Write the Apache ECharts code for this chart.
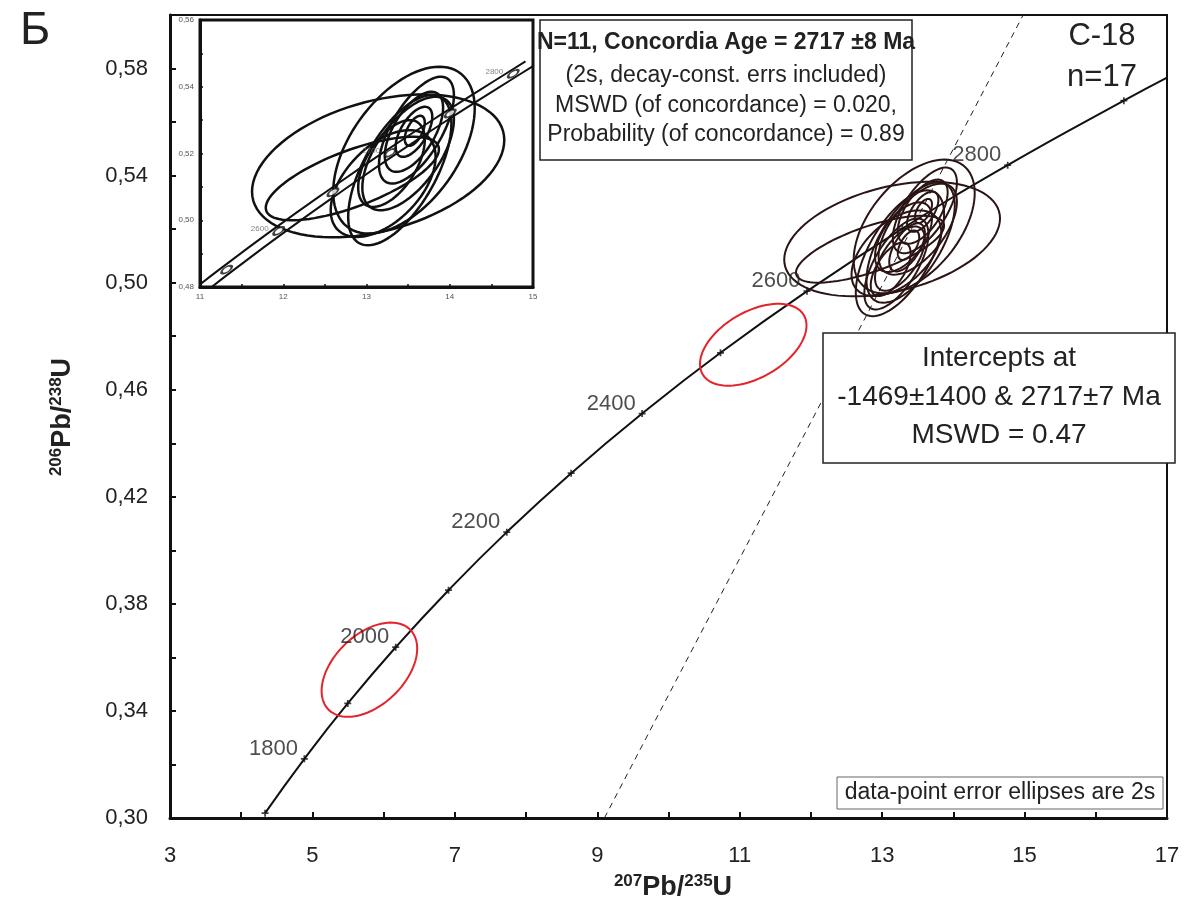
<!DOCTYPE html>
<html>
<head>
<meta charset="utf-8">
<script src="https://cdn.jsdelivr.net/npm/echarts@6/dist/echarts.min.js"></script>
<style>
  html, body { margin: 0; padding: 0; background: #fff; }
  #chart { width: 1185px; height: 907px; }
</style>
</head>
<body>
<div id="chart"></div>
<script>
// concordia ticks (Ma, 207Pb/235U, 206Pb/238U)
const concordiaAges = [1700, 1800, 1900, 2000, 2100, 2200, 2300, 2400, 2500, 2600, 2700, 2800, 2900]
const concordiaX = [4.335, 4.887, 5.496, 6.169, 6.911, 7.729, 8.633, 9.630, 10.730, 11.945, 13.284, 14.763, 16.394]
const concordiaY = [0.3018, 0.3221, 0.3428, 0.3638, 0.3851, 0.4068, 0.4288, 0.4511, 0.4738, 0.4968, 0.5202, 0.5439, 0.5680]
const curveEnd = [17.0, 0.5766]
const labeledAges = [1800, 2000, 2200, 2400, 2600, 2800]

// discordia through both intercepts
const discordiaX = [9.10, 14.98]
const discordiaY = [0.30, 0.60]

// error ellipses: [x, y, 2s x, 2s y, rho]
const ellipses = [
  [13.14, 0.5163, 1.515, 0.0214, 0.36],
  [12.83, 0.5125, 1.04, 0.0125, 0.70],
  [13.25, 0.5110, 0.62, 0.0235, 0.62],
  [13.40, 0.5150, 0.62, 0.0225, 0.62],
  [13.45, 0.5210, 0.85, 0.0250, 0.50],
  [13.20, 0.5110, 0.63, 0.0160, 0.50],
  [13.57, 0.5265, 0.35, 0.0120, 0.60],
  [13.57, 0.5265, 0.22, 0.0075, 0.60],
  [13.58, 0.5268, 0.12, 0.0045, 0.55],
  [13.60, 0.5270, 0.45, 0.0160, 0.65],
  [13.37, 0.5140, 0.15, 0.0055, 0.55],
  [13.35, 0.5132, 0.25, 0.0090, 0.60],
  [13.25, 0.5090, 0.35, 0.0120, 0.60],
  [13.12, 0.5050, 0.28, 0.0100, 0.60],
  [13.20, 0.5070, 0.45, 0.0170, 0.65],
  [13.50, 0.5200, 0.55, 0.0170, 0.60],
  [13.30, 0.5170, 0.40, 0.0130, 0.55]
]
const redEllipses = [
  [11.19, 0.4768, 0.748, 0.0153, 0.47],
  [5.80, 0.3554, 0.671, 0.0176, 0.45]
]
// ellipses shown in the inset (concordia age, N=11)
const insetIdx = [0, 1, 3, 4, 5, 6, 7, 8, 9, 15, 16]

// inset concordia
const insetAges = [2550, 2600, 2650, 2700, 2750, 2800]
const insetX = [11.32, 11.945, 12.597, 13.284, 14.006, 14.763]
const insetY = [0.4852, 0.4968, 0.5084, 0.5202, 0.5320, 0.5439]
const insetStart = [11.0, 0.4790]
const insetEnd = [15.0, 0.5476]
const insetLabeled = [2600, 2700, 2800]
const bandHalf = 0.09

const FONT = 'Liberation Sans, Arial, sans-serif'
const comma = (v, d) => v.toFixed(d).replace('.', ',')

function ellipseSeries (data, xi, yi, color, width) {
  return {
    type: 'custom',
    xAxisIndex: xi,
    yAxisIndex: yi,
    data: data,
    silent: true,
    clip: true,
    z: 4,
    encode: { x: 0, y: 1 },
    renderItem: (params, api) => {
      const cx = api.value(0), cy = api.value(1), ax = api.value(2), ay = api.value(3), r = api.value(4)
      const s = Math.sqrt(1 - r * r)
      const pts = []
      for (let i = 0; i < 90; i++) {
        const t = i / 90 * Math.PI * 2
        pts.push(api.coord([cx + ax * Math.cos(t), cy + ay * (r * Math.cos(t) + s * Math.sin(t))]))
      }
      return { type: 'polygon', shape: { points: pts }, style: { fill: 'none', stroke: color, lineWidth: width } }
    }
  }
}

const curveData = concordiaX.map((x, i) => [x, concordiaY[i]]).concat([curveEnd])
const tickData = concordiaX.map((x, i) => ({
  value: [x, concordiaY[i]],
  label: { show: labeledAges.includes(concordiaAges[i]), formatter: String(concordiaAges[i]) }
}))
const insetLine = [insetStart].concat(insetX.map((x, i) => [x, insetY[i]])).concat([insetEnd])
const plus = 'path://M3,0H5V3H8V5H5V8H3V5H0V3H3Z'

const titleRich = {
  s: { fontSize: 17, fontWeight: 'bold', fontFamily: FONT, fill: '#222', verticalAlign: 'top', lineHeight: 30 },
  b: { fontSize: 27, fontWeight: 'bold', fontFamily: FONT, fill: '#222', lineHeight: 30 }
}

const option = {
  backgroundColor: '#fff',
  animation: false,
  grid: [
    { left: 170, top: 15, right: 18, bottom: 89, show: true, borderColor: '#111', borderWidth: 2 },
    { left: 200, top: 20, width: 333, height: 267, show: true, borderColor: '#111', borderWidth: 3, backgroundColor: '#fff', z: 10 }
  ],
  xAxis: [
    {
      type: 'value', gridIndex: 0, min: 3, max: 17, interval: 1,
      axisLine: { lineStyle: { color: '#111', width: 3 } },
      axisTick: { inside: true, length: 6, lineStyle: { color: '#111', width: 2 } },
      splitLine: { show: false },
      axisLabel: { margin: 27, fontSize: 22, color: '#222', fontFamily: FONT,
        formatter: v => (Math.round(v) - 3) % 2 === 0 ? String(Math.round(v)) : '' }
    },
    {
      type: 'value', gridIndex: 1, min: 11, max: 15, interval: 0.5, z: 11,
      axisLine: { lineStyle: { color: '#111', width: 3 } },
      axisTick: { inside: true, length: 3, lineStyle: { color: '#111', width: 1.5 } },
      splitLine: { show: false },
      axisLabel: { margin: 6, fontSize: 8, color: '#555', fontFamily: FONT,
        formatter: v => Number.isInteger(v) ? String(v) : '' }
    }
  ],
  yAxis: [
    {
      type: 'value', gridIndex: 0, min: 0.30, max: 0.60, interval: 0.02,
      axisLine: { lineStyle: { color: '#111', width: 3 } },
      axisTick: { inside: true, length: 6, lineStyle: { color: '#111', width: 2 } },
      splitLine: { show: false },
      axisLabel: { margin: 22, fontSize: 22, color: '#222', fontFamily: FONT,
        formatter: v => (Math.round(v * 100) - 30) % 4 === 0 ? comma(v, 2) : '' }
    },
    {
      type: 'value', gridIndex: 1, min: 0.48, max: 0.56, interval: 0.01, z: 11,
      axisLine: { lineStyle: { color: '#111', width: 3 } },
      axisTick: { inside: true, length: 3, lineStyle: { color: '#111', width: 1.5 } },
      splitLine: { show: false },
      axisLabel: { margin: 6, fontSize: 8, color: '#555', fontFamily: FONT,
        formatter: v => Math.round(v * 100) % 2 === 0 ? comma(v, 2) : '' }
    }
  ],
  series: [
    {
      type: 'line', xAxisIndex: 0, yAxisIndex: 0, data: discordiaX.map((x, i) => [x, discordiaY[i]]),
      showSymbol: false, silent: true, lineStyle: { color: '#222', width: 1, type: [6, 5] }, z: 2
    },
    {
      type: 'line', xAxisIndex: 0, yAxisIndex: 0, data: curveData, smooth: true,
      showSymbol: false, silent: true, lineStyle: { color: '#111', width: 2 }, z: 3
    },
    {
      type: 'scatter', xAxisIndex: 0, yAxisIndex: 0, data: tickData, symbol: plus, symbolSize: 7,
      silent: true, itemStyle: { color: '#111' }, z: 5,
      label: { position: 'left', distance: 3, offset: [0, -10], fontSize: 22, color: '#222', fontFamily: FONT }
    },
    ellipseSeries(ellipses, 0, 0, '#2b1414', 2),
    ellipseSeries(redEllipses, 0, 0, '#e3242b', 2),
    // inset
    {
      type: 'line', xAxisIndex: 1, yAxisIndex: 1, data: insetLine.map(p => [p[0] - bandHalf, p[1]]), smooth: true,
      showSymbol: false, silent: true, lineStyle: { color: '#111', width: 2 }, z: 12
    },
    {
      type: 'line', xAxisIndex: 1, yAxisIndex: 1, data: insetLine.map(p => [p[0] + bandHalf, p[1]]), smooth: true,
      showSymbol: false, silent: true, lineStyle: { color: '#111', width: 2 }, z: 12
    },
    Object.assign(ellipseSeries(insetIdx.map(i => ellipses[i]), 1, 1, '#111', 2.5), { z: 13 }),
    {
      type: 'scatter', xAxisIndex: 1, yAxisIndex: 1, silent: true, z: 14,
      data: insetX.map((x, i) => ({
        value: [x, insetY[i]],
        label: { show: insetLabeled.includes(insetAges[i]), formatter: String(insetAges[i]) }
      })),
      symbol: 'emptyCircle', symbolSize: [12, 5], symbolRotate: 34,
      itemStyle: { color: '#111', borderColor: '#111', borderWidth: 1.5 },
      label: { position: 'left', distance: 2, offset: [0, -2], fontSize: 8, color: '#666', fontFamily: FONT }
    }
  ],
  graphic: [
    { type: 'text', left: 20, top: 8, z: 100, style: { text: 'Б', fontSize: 46, fontFamily: FONT, fill: '#222' } },
    { type: 'text', x: 1102, y: 36, z: 100, style: { text: 'C-18', fontSize: 31, fontFamily: FONT, fill: '#222', align: 'center', verticalAlign: 'middle' } },
    { type: 'text', x: 1102, y: 77, z: 100, style: { text: 'n=17', fontSize: 31, fontFamily: FONT, fill: '#222', align: 'center', verticalAlign: 'middle' } },
    { type: 'rect', z: 100, shape: { x: 540, y: 20, width: 372, height: 140 }, style: { fill: '#fff', stroke: '#222', lineWidth: 1.5 } },
    { type: 'text', x: 726, y: 43, z: 101, style: { text: 'N=11, Concordia Age = 2717 ±8 Ma', fontSize: 23, fontWeight: 'bold', fontFamily: FONT, fill: '#222', align: 'center', verticalAlign: 'middle' } },
    { type: 'text', x: 726, y: 76, z: 101, style: { text: '(2s, decay-const. errs included)', fontSize: 23, fontFamily: FONT, fill: '#222', align: 'center', verticalAlign: 'middle' } },
    { type: 'text', x: 726, y: 106, z: 101, style: { text: 'MSWD (of concordance) = 0.020,', fontSize: 23, fontFamily: FONT, fill: '#222', align: 'center', verticalAlign: 'middle' } },
    { type: 'text', x: 726, y: 135, z: 101, style: { text: 'Probability (of concordance) = 0.89', fontSize: 23, fontFamily: FONT, fill: '#222', align: 'center', verticalAlign: 'middle' } },
    { type: 'rect', z: 100, shape: { x: 823, y: 333, width: 352, height: 130 }, style: { fill: '#fff', stroke: '#222', lineWidth: 1.5 } },
    { type: 'text', x: 999, y: 358, z: 101, style: { text: 'Intercepts at', fontSize: 28, fontFamily: FONT, fill: '#222', align: 'center', verticalAlign: 'middle' } },
    { type: 'text', x: 999, y: 397, z: 101, style: { text: '-1469±1400 & 2717±7 Ma', fontSize: 28, fontFamily: FONT, fill: '#222', align: 'center', verticalAlign: 'middle' } },
    { type: 'text', x: 999, y: 435, z: 101, style: { text: 'MSWD = 0.47', fontSize: 28, fontFamily: FONT, fill: '#222', align: 'center', verticalAlign: 'middle' } },
    { type: 'rect', z: 100, shape: { x: 837, y: 777, width: 326, height: 32 }, style: { fill: '#fff', stroke: '#666', lineWidth: 1 } },
    { type: 'text', x: 1000, y: 793, z: 101, style: { text: 'data-point error ellipses are 2s', fontSize: 23, fontFamily: FONT, fill: '#222', align: 'center', verticalAlign: 'middle' } },
    {
      type: 'text', x: 63, y: 417, rotation: Math.PI / 2, z: 100,
      style: { text: '{s|206}{b|Pb/}{s|238}{b|U}', align: 'center', verticalAlign: 'middle', rich: titleRich }
    },
    {
      type: 'text', x: 673, y: 888, z: 100,
      style: { text: '{s|207}{b|Pb/}{s|235}{b|U}', align: 'center', verticalAlign: 'middle', rich: titleRich }
    }
  ]
}

const chart = echarts.init(document.getElementById('chart'), null, { renderer: 'canvas' })
chart.setOption(option)
</script>
</body>
</html>
